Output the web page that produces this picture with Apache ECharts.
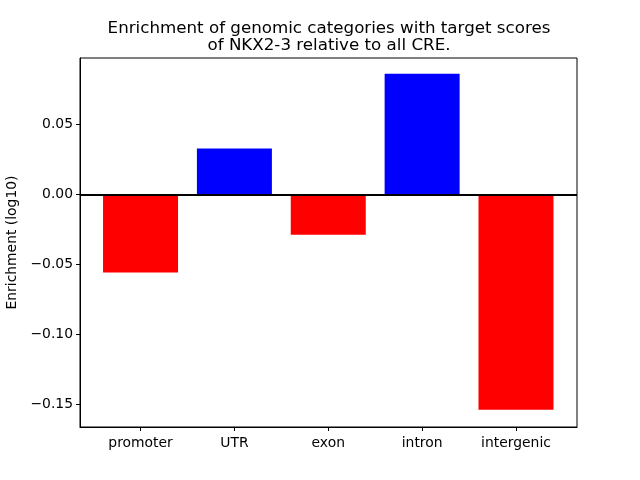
<!DOCTYPE html>
<html>
<head>
<meta charset="utf-8">
<script src="https://cdn.jsdelivr.net/npm/echarts@6/dist/echarts.min.js"></script>
<style>html,body{margin:0;padding:0;background:#fff}#c{width:640px;height:480px}</style>
</head>
<body>
<div id="c"></div>
<script>
const categories = ['promoter', 'UTR', 'exon', 'intron', 'intergenic'];
const values = [-0.0555, 0.0329, -0.0286, 0.0864, -0.1536];
const yTicks = [-0.15, -0.10, -0.05, 0.00, 0.05];
const titleText = 'Enrichment of genomic categories with target scores\nof NKX2-3 relative to all CRE.';
const yName = 'Enrichment (log10)';

const font = 'DejaVu Sans';
const chart = echarts.init(document.getElementById('c'), null, {renderer: 'canvas'});
const fmt = v => (v < 0 ? '\u2212' : '') + Math.abs(v).toFixed(2);

chart.setOption({
  animation: false,
  backgroundColor: '#fff',
  title: {
    text: titleText,
    left: 324, top: 15, textAlign: 'center',
    textStyle: {fontFamily: font, fontSize: 16.7, fontWeight: 'normal', color: '#000', lineHeight: 17}
  },
  grid: {left: 80, right: 63, top: 58, bottom: 53, show: true, borderColor: '#000', borderWidth: 1, backgroundColor: 'transparent', outerBoundsMode: 'none', containLabel: false},
  xAxis: {
    type: 'value', min: -0.645, max: 4.65,
    axisLine: {show: true, onZero: false, lineStyle: {color: '#000', width: 1}},
    axisTick: {show: true, length: 4, inside: false, customValues: categories.map((c, i) => i), lineStyle: {color: '#000'}},
    axisLabel: {show: true, customValues: categories.map((c, i) => i), formatter: v => categories[Math.round(v)] || '', fontFamily: font, fontSize: 13.9, color: '#000', margin: 9},
    splitLine: {show: false}
  },
  yAxis: {
    type: 'value', min: -0.1659, max: 0.0976,
    name: yName, nameLocation: 'middle', nameGap: 59,
    nameTextStyle: {fontFamily: font, fontSize: 13.9, color: '#000'},
    axisLine: {show: true, onZero: false, lineStyle: {color: '#000', width: 1}},
    axisTick: {show: true, length: 4, customValues: yTicks, lineStyle: {color: '#000'}},
    axisLabel: {show: true, customValues: yTicks, formatter: fmt, fontFamily: font, fontSize: 13.9, color: '#000', margin: 7},
    splitLine: {show: false}
  },
  series: [{
    type: 'bar',
    barWidth: 75,
    data: values.map((v, i) => ({value: [i, v], itemStyle: {color: v >= 0 ? '#0000ff' : '#ff0000'}})),
    markLine: {
      silent: true, symbol: 'none', label: {show: false},
      lineStyle: {color: '#000', width: 2, type: 'solid'},
      data: [{yAxis: 0}]
    }
  }]
});
</script>
</body>
</html>
